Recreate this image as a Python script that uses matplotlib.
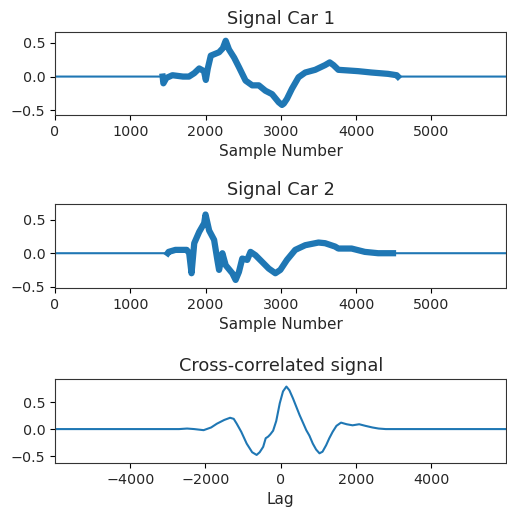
import numpy as np
import matplotlib
matplotlib.use("Agg")
import matplotlib.pyplot as plt

# sample numbers / values (car 1)
car1_x = [0, 1430, 1440, 1480, 1560, 1700, 1780, 1850, 1916, 1980, 2004, 2030, 2070, 2180, 2230, 2268,
          2312, 2380, 2444, 2532, 2620, 2708, 2796, 2884, 2972, 3016, 3040, 3082, 3148, 3236, 3325,
          3457, 3589, 3650, 3700, 3765, 3900, 4029, 4205, 4425, 4540, 4557, 5999]
car1_y = [0.0, 0.0, -0.10, -0.02, 0.02, 0.0, 0.0, 0.05, 0.12, 0.08, -0.05, 0.12, 0.31, 0.36, 0.42, 0.53,
          0.40, 0.28, 0.14, -0.06, -0.13, -0.13, -0.21, -0.26, -0.38, -0.42, -0.40, -0.33, -0.18, -0.01, 0.06,
          0.10, 0.17, 0.21, 0.17, 0.10, 0.09, 0.08, 0.06, 0.04, 0.02, 0.0, 0.0]

# car 2
car2_x = [0, 1497, 1510, 1600, 1750, 1783, 1814, 1850, 1916, 1982, 2000, 2048, 2114, 2157, 2180,
          2224, 2268, 2356, 2400, 2444, 2488, 2554, 2598, 2664, 2752, 2840, 2928, 2994, 3082, 3192,
          3325, 3501, 3589, 3721, 3765, 3941, 4117, 4293, 4470, 4491, 5999]
car2_y = [0.0, 0.0, 0.02, 0.05, 0.05, 0.0, -0.30, 0.15, 0.32, 0.45, 0.58, 0.34, 0.20, -0.10, -0.25,
          0.0, -0.18, -0.30, -0.40, -0.28, -0.08, -0.10, 0.02, -0.03, -0.13, -0.23, -0.30, -0.25, -0.10, 0.05,
          0.12, 0.16, 0.15, 0.10, 0.07, 0.07, 0.02, 0.0, 0.0, 0.0, 0.0]

# cross-correlation
lag = [-5999, -2700, -2489, -2300, -2050, -1850, -1697, -1500, -1346, -1250, -1170, -1050, -905, -760, -641,
       -560, -467, -400, -335, -280, -203, -120, -26, 60, 150, 230, 325, 410, 501, 590, 678, 760, 852,
       940, 1029, 1110, 1206, 1290, 1380, 1480, 1601, 1750, 1908, 2084, 2250, 2435, 2600, 2789, 5999]
xcorr = [0.0, 0.0, 0.01, 0.0, -0.02, 0.03, 0.10, 0.17, 0.21, 0.19, 0.10, -0.05, -0.27, -0.43, -0.48,
         -0.43, -0.33, -0.17, -0.14, -0.10, -0.03, 0.15, 0.48, 0.70, 0.79, 0.72, 0.57, 0.42, 0.26, 0.12, -0.02, -0.12, -0.27,
         -0.38, -0.45, -0.42, -0.30, -0.17, -0.05, 0.06, 0.12, 0.09, 0.07, 0.09, 0.06, 0.03, 0.01, 0.0, 0.0]

blue = "#1f77b4"
plt.rcParams["xtick.labelsize"] = 10.3
plt.rcParams["ytick.labelsize"] = 10.3
plt.rcParams["axes.labelsize"] = 11
plt.rcParams["axes.titlesize"] = 12.8
plt.rcParams["text.color"] = "#262626"
plt.rcParams["axes.labelcolor"] = "#262626"
plt.rcParams["xtick.labelcolor"] = "#262626"
plt.rcParams["ytick.labelcolor"] = "#262626"
plt.rcParams["axes.edgecolor"] = "#333333"

fig = plt.figure(figsize=(5.07, 5.16), dpi=100)

ax1 = fig.add_axes([0.1085, 0.777, 0.8905, 0.161])
ax1.plot(car1_x, car1_y, color=blue, lw=1.5)
ax1.plot(car1_x[1:-1], car1_y[1:-1], color=blue, lw=4.5, solid_joinstyle="round")
ax1.set_xlim(0, 5999)
ax1.set_ylim(-0.57, 0.66)
ax1.set_title("Signal Car 1")
ax1.set_xlabel("Sample Number")

ax2 = fig.add_axes([0.1085, 0.442, 0.8905, 0.163])
ax2.plot(car2_x, car2_y, color=blue, lw=1.5)
ax2.plot(car2_x[1:-1], car2_y[1:-1], color=blue, lw=4.5, solid_joinstyle="round")
ax2.set_xlim(0, 5999)
ax2.set_ylim(-0.52, 0.74)
ax2.set_title("Signal Car 2")
ax2.set_xlabel("Sample Number")

ax3 = fig.add_axes([0.1085, 0.1027, 0.8905, 0.1628])
ax3.plot(lag, xcorr, color=blue, lw=1.5)
ax3.set_xlim(-5999, 5999)
ax3.set_ylim(-0.63, 0.93)
ax3.set_xticks([-4000, -2000, 0, 2000, 4000])
ax3.set_title("Cross-correlated signal")
ax3.set_xlabel("Lag")

fig.savefig("out.png", dpi=100)
